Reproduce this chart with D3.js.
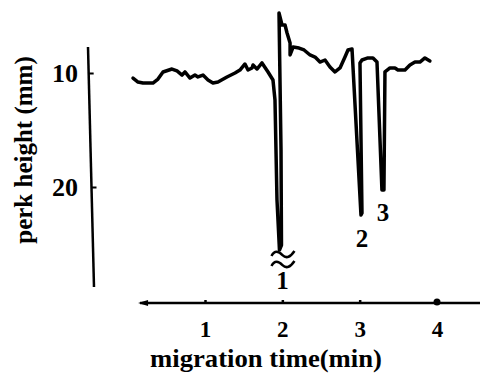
<!DOCTYPE html>
<html>
<head>
<meta charset="utf-8">
<script src="https://cdn.jsdelivr.net/npm/d3@7"></script>
<style>
  body { margin: 0; background: #fff; }
  svg { display: block; }
  text { font-family: "Liberation Serif", "Times New Roman", serif; font-weight: bold; fill: #000; }
</style>
</head>
<body>
<svg id="chart" width="480" height="373"></svg>
<script>
// Recorder trace: migration time (min) and pen deflection (mm)
const traceTime = [
  0.069, 0.134, 0.198, 0.327, 0.392, 0.457, 0.573, 0.638, 0.703, 0.741,
  0.806, 0.870, 0.909, 0.974, 1.039, 1.103, 1.168, 1.284, 1.388, 1.452,
  1.517, 1.556, 1.608, 1.621, 1.672, 1.737, 1.815, 1.879, 1.905, 1.931,
  1.963, 1.989, 1.983, 1.957, 1.996, 2.035, 2.061, 2.100, 2.100, 2.139,
  2.216, 2.281, 2.358, 2.423, 2.487, 2.552, 2.616, 2.681, 2.746, 2.810,
  2.849, 2.901, 3.017, 3.030, 3.004, 3.030, 3.107, 3.172, 3.224, 3.288,
  3.314, 3.327, 3.392, 3.456, 3.495, 3.586, 3.650, 3.715, 3.779, 3.844,
  3.908
];
const traceHeight = [
  10.44, 10.79, 10.88, 10.88, 10.53, 9.91, 9.65, 9.82, 10.18, 9.91,
  10.44, 10.18, 10.35, 10.18, 10.61, 10.88, 10.79, 10.35, 10.00, 9.74,
  9.21, 9.74, 9.56, 9.30, 9.65, 9.12, 9.91, 10.61, 12.37, 21.14,
  25.53, 25.09, 16.75, 4.74, 5.79, 5.79, 6.49, 7.37, 8.42, 7.72,
  7.81, 7.98, 8.42, 8.60, 9.04, 8.86, 9.47, 9.91, 9.56, 8.60,
  7.98, 7.89, 22.46, 22.28, 9.12, 8.86, 8.68, 8.68, 9.04, 20.26,
  20.26, 9.91, 9.56, 9.56, 9.74, 9.74, 9.30, 9.04, 9.04, 8.68,
  8.95
];

const xTicks = [1, 2, 3, 4];
const yTicks = [10, 20];
const peakNames = ["1", "2", "3"];
const peakTimes = [1.96, 3.02, 3.30];

const svg = d3.select("#chart");

const x = d3.scaleLinear().domain([1, 4]).range([205, 437]);
const y = d3.scaleLinear().domain([10, 20]).range([73, 187]);

// ---- vertical axis (hand-ruled, leaning slightly) ----
const yTop = y(7.72), yBot = y(28.77);
const lean = 1.43;
const yAxisG = svg.append("g")
  .attr("transform", `translate(88,${yTop}) skewX(${lean}) translate(0,${-yTop})`);
yAxisG.append("line")
  .attr("x1", 0).attr("x2", 0).attr("y1", yTop).attr("y2", yBot)
  .attr("stroke", "#000").attr("stroke-width", 2.5);
yAxisG.append("g")
  .call(d3.axisRight(y).tickValues(yTicks).tickSize(5).tickFormat(""))
  .call(g => g.select(".domain").remove())
  .call(g => g.selectAll(".tick line").attr("stroke", "#000").attr("stroke-width", 2));

svg.append("g").selectAll("text")
  .data(yTicks).join("text")
  .attr("x", 78).attr("y", d => y(d)).attr("dy", "0.35em")
  .attr("text-anchor", "end").attr("font-size", 26)
  .text(d => d);

svg.append("text")
  .attr("transform", "translate(32,150) rotate(-90)")
  .attr("text-anchor", "middle").attr("font-size", 25)
  .text("perk height (mm)");

// ---- horizontal axis ----
const xAxisY = 303;
svg.append("line")
  .attr("x1", x(0.16)).attr("x2", 480).attr("y1", xAxisY).attr("y2", xAxisY)
  .attr("stroke", "#000").attr("stroke-width", 2.5);
const ax0 = x(0.16);
svg.append("path")
  .attr("d", `M${ax0 - 2},${xAxisY} L${ax0 + 8},${xAxisY - 3} L${ax0 + 8},${xAxisY + 3} Z`)
  .attr("fill", "#000");

svg.append("g")
  .attr("transform", `translate(0,${xAxisY})`)
  .call(d3.axisBottom(x).tickValues(xTicks).tickSize(-3).tickPadding(0).tickFormat(d3.format("d")))
  .call(g => g.select(".domain").remove())
  .call(g => g.selectAll(".tick line").attr("stroke", "#000").attr("stroke-width", 2.5))
  .call(g => g.selectAll(".tick text")
    .attr("y", 26).attr("dy", "0.35em")
    .attr("font-size", 23).attr("fill", "#000")
    .style("font-family", '"Liberation Serif", "Times New Roman", serif').style("font-weight", "bold"));

svg.append("circle")
  .attr("cx", x(xTicks[xTicks.length - 1])).attr("cy", xAxisY - 1).attr("r", 3.5)
  .attr("fill", "#000");

svg.append("text")
  .attr("x", 266).attr("y", 367)
  .attr("text-anchor", "middle").attr("font-size", 25)
  .attr("textLength", 232).attr("lengthAdjust", "spacingAndGlyphs")
  .text("migration time(min)");

// ---- trace ----
const points = traceTime.map((t, i) => [t, traceHeight[i]]);
const line = d3.line().x(d => x(d[0])).y(d => y(d[1]));
svg.append("path")
  .datum(points)
  .attr("d", line)
  .attr("fill", "none").attr("stroke", "#000")
  .attr("stroke-width", 3.5).attr("stroke-linejoin", "round").attr("stroke-linecap", "round");

// ---- peak labels at the bottom of each deflection ----
const peaks = peakTimes.map((pt, k) => {
  const near = points.filter(p => Math.abs(p[0] - pt) < 0.05);
  const deepest = near.reduce((a, b) => (b[1] > a[1] ? b : a));
  return { name: peakNames[k], t: deepest[0], h: deepest[1] };
});

// off-scale break mark under the first peak
const p1 = peaks[0];
const bx = x(p1.t), by = y(p1.h);
[4, 14].forEach(off => {
  svg.append("path")
    .attr("d", `M${bx - 8},${by + off + 2} C${bx - 5},${by + off - 4} ${bx - 1},${by + off - 3} ${bx + 3},${by + off + 1} S${bx + 11},${by + off + 3} ${bx + 15},${by + off - 3}`)
    .attr("fill", "none").attr("stroke", "#000").attr("stroke-width", 2.5);
});

const labelDrop = [30, 23, 22];
svg.append("g").selectAll("text")
  .data(peaks).join("text")
  .attr("x", (d, i) => x(d.t) + (i === 0 ? 3 : 1))
  .attr("y", (d, i) => y(d.h) + labelDrop[i])
  .attr("dy", "0.35em")
  .attr("text-anchor", "middle").attr("font-size", 25)
  .text(d => d.name);
</script>
</body>
</html>
